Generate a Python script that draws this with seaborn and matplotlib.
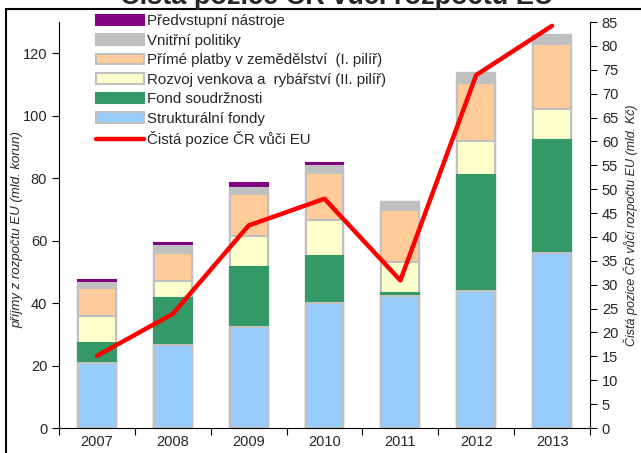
import numpy as np
import pandas as pd

import matplotlib
matplotlib.use("Agg")

import matplotlib.pyplot as plt
from matplotlib.patches import Patch, Rectangle
from matplotlib.lines import Line2D
import seaborn as sns


# -------------------------------------------------------
# DATA
# -------------------------------------------------------

years = ["2007", "2008", "2009", "2010", "2011", "2012", "2013"]

strukturalni = [20.8, 26.6, 32.2, 40.1, 42.3, 43.9, 56.1]
fond = [6.3, 14.9, 19.4, 14.9, 0.8, 37.1, 36.1]
rozvoj = [8.8, 5.5, 9.8, 11.6, 10.1, 10.8, 9.8]
prime = [9.0, 9.1, 13.4, 14.9, 16.6, 18.7, 21.1]
vnitrni = [1.4, 2.1, 2.2, 2.4, 2.6, 3.2, 2.7]
predvstupni = [1.1, 1.1, 1.3, 1.1, 0.0, 0.0, 0.0]

cista_pozice = [15.1, 23.9, 42.4, 48.0, 30.9, 73.9, 84.2]

labels = [
    "Předvstupní nástroje",
    "Vnitřní politiky",
    "Přímé platby v zemědělství  (I. pilíř)",
    "Rozvoj venkova a  rybářství (II. pilíř)",
    "Fond soudržnosti",
    "Strukturální fondy",
]
line_label = "Čistá pozice ČR vůči EU"

title = "Čistá pozice ČR vůči rozpočtu EU"
ylabel_left = "příjmy z rozpočtu EU (mld. korun)"
ylabel_right = "Čistá pozice ČR vůči rozpočtu EU (mld. Kč)"


# -------------------------------------------------------
# CONFIGURATION
# -------------------------------------------------------

sns.set_theme(style="ticks")
plt.rcParams["font.family"] = ["Liberation Sans", "DejaVu Sans"]

colors = ["#800080", "#C0C0C0", "#FFCC99", "#FFFFCC", "#339966", "#99CCFF"]
edges = ["#800080", "#C0C0C0", "#C0C0C0", "#C0C0C0", "#339966", "#C0C0C0"]

# layers from top to bottom
layers = [predvstupni, vnitrni, prime, rozvoj, fond, strukturalni]

df = pd.DataFrame({"rok": years})
cum = np.zeros(len(years))
for i, vals in enumerate(reversed(layers)):
    cum = cum + np.array(vals)
    df[f"c{i}"] = cum
# c5 = total, c0 = strukturalni only


# -------------------------------------------------------
# FIGURE
# -------------------------------------------------------

fig = plt.figure(figsize=(6.41, 4.53), dpi=100)
ax = fig.add_axes([59 / 641, 1 - 428 / 453, 531 / 641, 406 / 453])

for k in range(len(layers)):
    col = f"c{len(layers) - 1 - k}"
    sns.barplot(
        data=df, x="rok", y=col, ax=ax,
        color=colors[k], edgecolor=edges[k], linewidth=1.5,
        width=0.5, saturation=1,
    )

ax.set_xlim(-0.5, len(years) - 0.5)
ax.set_ylim(0, 130)
ax.set_yticks(range(0, 121, 20))
ax.set_xlabel("")
ax.set_ylabel(ylabel_left, fontsize=9.5, style="italic")
ax.yaxis.set_label_coords(-0.068, 0.488)
ax.tick_params(axis="x", which="major", length=0, labelsize=10.5, pad=5)
ax.set_xticks(np.arange(len(years) + 1) - 0.5, minor=True)
ax.tick_params(axis="x", which="minor", length=5, color="black", width=0.8)
ax.tick_params(axis="y", length=5, labelsize=10.5, color="black", width=0.8)
for s in ["top", "right"]:
    ax.spines[s].set_visible(False)
for s in ["left", "bottom"]:
    ax.spines[s].set_color("black")
    ax.spines[s].set_linewidth(0.8)

ax2 = ax.twinx()
sns.lineplot(x=np.arange(len(years)), y=cista_pozice, ax=ax2,
             color="#FF0000", linewidth=3.2)
ax2.set_ylim(0, 85)
ax2.set_yticks(range(0, 86, 5))
ax2.set_ylabel(ylabel_right, fontsize=9, style="italic", labelpad=4)
ax2.tick_params(axis="y", length=5, labelsize=10.5, color="black", width=0.8)
for s in ["top", "left", "bottom"]:
    ax2.spines[s].set_visible(False)
ax2.spines["right"].set_color("black")
ax2.spines["right"].set_linewidth(0.8)

# legend
handles = [Patch(facecolor=c, edgecolor=e, linewidth=1.5) for c, e in zip(colors, edges)]
handles.append(Line2D([], [], color="#FF0000", linewidth=3.2))
fig.legend(
    handles, labels + [line_label],
    loc="upper left", bbox_to_anchor=(96 / 641, 1 - 14 / 453),
    frameon=False, fontsize=10.8, borderpad=0, borderaxespad=0,
    handlelength=3.2, handleheight=0.7, handletextpad=0.2, labelspacing=0.37,
)

# title (cut at top) and frame
fig.text(0.525, 1 - 4.5 / 453, title, ha="center", va="baseline",
         fontsize=19.5, fontweight="bold")
fig.patches.append(Rectangle((6 / 641, -0.1), 1.2, 1.1 - 9 / 453,
                             transform=fig.transFigure, fill=False,
                             edgecolor="black", linewidth=1.5))

fig.savefig("out.png", dpi=100)
plt.close(fig)
